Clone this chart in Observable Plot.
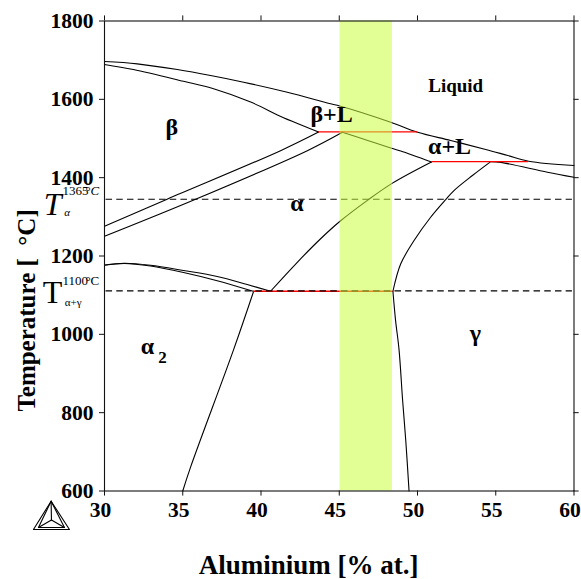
<!DOCTYPE html>
<html>
<head>
<meta charset="utf-8">
<style>html,body{margin:0;padding:0;background:#fff}svg{display:block}</style>
<script src="https://cdn.jsdelivr.net/npm/d3@7"></script>
<script src="https://cdn.jsdelivr.net/npm/@observablehq/plot@0.6"></script>
</head>
<body>
<div id="chart"></div>
<script>
const xTicks = [30,35,40,45,50,55,60];
const yTicks = [600,800,1000,1200,1400,1600,1800];

const liquidusX = [30,32.09,34.65,36.78,38.89,41.68,44.45,45.03,48.29,50.01,52.12,54.36,55.77,57.1,60];
const liquidusT = [1696.5,1690.6,1676,1660.8,1643.7,1618,1588.5,1583,1541.5,1516,1495,1472,1456.5,1442,1431];
const betaSolidusX = [30,31.85,35.05,36.97,39.34,41.44,43.36,43.68];
const betaSolidusT = [1689,1676,1646,1627,1593,1553,1522,1516.5];
const betaUpperX = [30,34,41.25,43.68];
const betaUpperT = [1276,1345,1469,1516.5];
const betaLowerX = [30,35.82,42.96,45.2];
const betaLowerT = [1250.5,1345,1469,1516];
const alphaSolidusX = [45.2,46.82,48.29,48.93,50.89];
const alphaSolidusT = [1516,1495,1476,1468,1440];
const gammaLiquidusX = [54.68,55.32,58.3,60];
const gammaLiquidusT = [1441,1439,1414,1401];
const alphaLeftX = [50.89,48.4,46.8,45.03,43.81,42.32,40.61];
const alphaLeftT = [1440,1386,1342,1288,1244,1184,1110];
const alphaRightX = [54.68,53.51,52.33,51.8,50.84,49.78,48.93,48.43];
const alphaRightT = [1441,1405.5,1367,1344,1299,1239.5,1180,1110];
const gammaX = [48.43,48.6,48.82,49.05,49.25,49.46];
const gammaT = [1110,1035,961,831,729,600];
const alpha2RightX = [39.53,38.25,35.5,35];
const alpha2RightT = [1110,961,661,600];
const a2UpperX = [30,31.27,32.94,35.05,37.2,39.12,40.61];
const a2UpperT = [1177,1181.6,1176.5,1163,1147.6,1127,1110];
const a2LowerX = [30,31.27,32.94,35.05,37.2,39.5];
const a2LowerT = [1176.5,1181,1174.5,1158,1137,1110];

const curves = [
  [liquidusX,liquidusT],[betaSolidusX,betaSolidusT],[betaUpperX,betaUpperT],[betaLowerX,betaLowerT],
  [alphaSolidusX,alphaSolidusT],[gammaLiquidusX,gammaLiquidusT],[alphaLeftX,alphaLeftT],[alphaRightX,alphaRightT],
  [gammaX,gammaT],[alpha2RightX,alpha2RightT],[a2UpperX,a2UpperT],[a2LowerX,a2LowerT]
].map(([xs,ts]) => xs.map((x,i) => ({x, t:ts[i]})));

const tieT = [1517,1441,1110];
const tieX1 = [43.68,50.89,39.53];
const tieX2 = [50.01,57.1,48.43];
const dashedT = [1345,1111];
const bandX = [45.05,48.4];

const labelText = ["β","β+L","α+L","α","γ","α"];
const labelX = [34.3,44.51,52.05,42.3,53.7,32.75];
const labelT = [1528,1561,1479,1335,1002,970];

const logoZ = [0,0,0,0,1,1,1,1,2,2,3,3,4,4];
const logoX = [26.59,25.46,27.76,26.59,26.59,25.78,27.44,26.59,26.59,26.61,25.78,26.61,27.44,26.61];
const logoT = [574,501.7,501.7,574,574,507,507,574,574,526,507,526,507,526];

const serif = "Liberation Serif";
const ink = "#111";
const T = (text, x, t, opts={}) => Plot.text([text], {x:[x], y:[t], text:d=>d, fontFamily:serif, fill:"#000", ...opts});

const chart = Plot.plot({
  width:581, height:579,
  marginLeft:104, marginRight:7.5, marginTop:20.5, marginBottom:88.5,
  x:{domain:[30,60], axis:null},
  y:{domain:[600,1800], axis:null},
  style:{fontFamily:serif, background:"#fff", overflow:"visible"},
  marks:[
    ...curves.map(c => Plot.line(c, {x:"x", y:"t", stroke:"#000", strokeWidth:1.1, curve:"catmull-rom"})),
    Plot.ruleY(tieT, {x1:tieX1, x2:tieX2, y:d=>d, stroke:"#f00", strokeWidth:1.3}),
    Plot.ruleY(dashedT, {x1:30.1, x2:59.9, stroke:"#000", strokeWidth:1.1, strokeDasharray:"6.5,4.2"}),
    Plot.rect([0], {x1:[bandX[0]], x2:[bandX[1]], y1:[600], y2:[1800], fill:"#caff40", fillOpacity:0.55}),
    Plot.frame({stroke:ink, strokeWidth:1.1}),
    Plot.axisX({anchor:"bottom", ticks:xTicks, tickSize:0, tickPadding:11, tickFormat:"d", dx:-4, label:null, fontSize:21.5, fontWeight:"bold", fontFamily:serif, fill:"#000"}),
    Plot.ruleX(xTicks, {y1:600, y2:587, stroke:ink}),
    Plot.ruleX(xTicks, {y1:1800, y2:1813, stroke:ink}),
    Plot.axisY({anchor:"left", ticks:yTicks, tickSize:5, tickPadding:6, tickFormat:"d", label:null, fontSize:21.5, fontWeight:"bold", fontFamily:serif, fill:"#000", stroke:ink}),
    Plot.ruleY(yTicks, {x1:60, x2:60.33, stroke:ink}),
    Plot.text(labelText, {x:labelX, y:labelT, text:d=>d, fontFamily:serif, fontSize:24, fontWeight:"bold", fill:"#000"}),
    T("2", 33.7, 942, {fontSize:17, fontWeight:"bold"}),
    T("Liquid", 52.44, 1635, {fontSize:19, fontWeight:"bold"}),
    T("T", 26.68, 1331, {fontSize:32, fontStyle:"italic"}),
    T("α", 27.61, 1312, {fontSize:11, fontStyle:"italic"}),
    T("1365", 27.31, 1367, {fontSize:13, textAnchor:"start"}),
    T("°", 28.785, 1367, {fontSize:13, textAnchor:"start"}),
    T("C", 29.1, 1367, {fontSize:13, textAnchor:"start", fontStyle:"italic"}),
    T("T", 26.68, 1107, {fontSize:32}),
    T("α+γ", 28, 1082, {fontSize:11}),
    T("1100", 27.31, 1137, {fontSize:13, textAnchor:"start"}),
    T("°", 28.785, 1137, {fontSize:13, textAnchor:"start"}),
    T("C", 29.1, 1137, {fontSize:13, textAnchor:"start"}),
    T("Temperature [\u00a0\u00a0°C]", 25.02, 1061, {fontSize:25, fontWeight:"bold", rotate:-90}),
    T("Aluminium [% at.]", 43.04, 410, {fontSize:27, fontWeight:"bold"}),
    Plot.line(logoX.map((x,i)=>({x, t:logoT[i], z:logoZ[i]})), {x:"x", y:"t", z:"z", stroke:"#000", strokeWidth:1.1})
  ]
});
document.getElementById("chart").append(chart);
</script>
</body>
</html>
